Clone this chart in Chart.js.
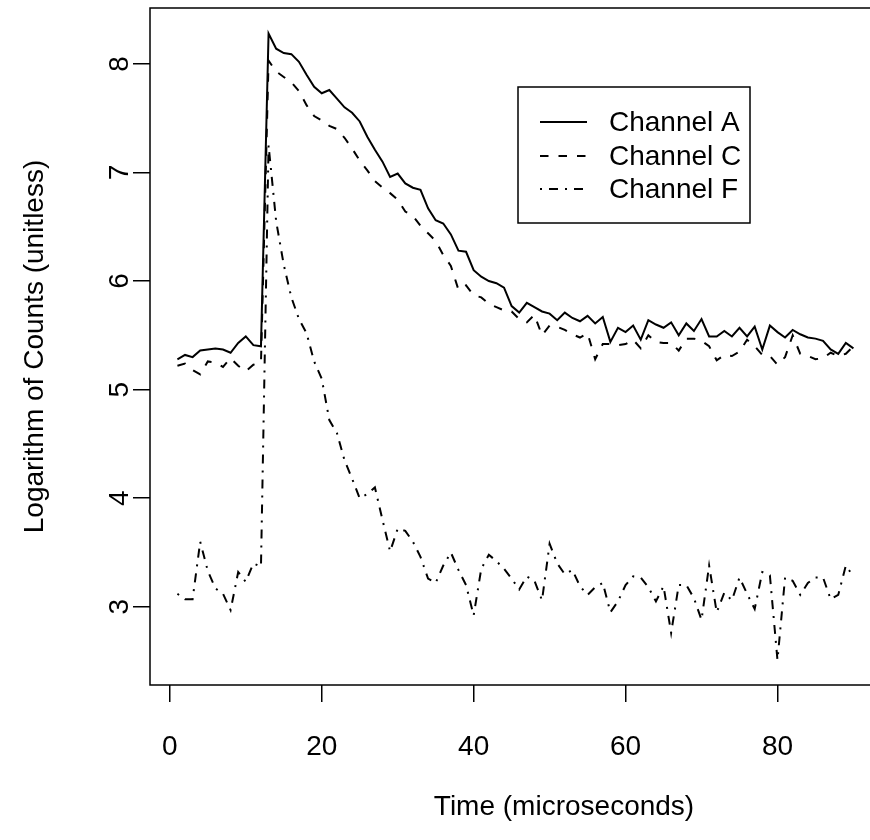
<!DOCTYPE html>
<html>
<head>
<meta charset="utf-8">
<script src="https://cdn.jsdelivr.net/npm/chart.js@4.4.1/dist/chart.umd.min.js"></script>
<style>
  html, body { margin: 0; padding: 0; background: #fff; overflow: hidden; }
  #wrap { width: 870px; height: 840px; overflow: hidden; }
</style>
</head>
<body>
<div id="wrap"><canvas id="myChart" width="982" height="840"></canvas></div>
<script>
// time axis (microseconds)
const timeUs = [1, 2, 3, 4, 5, 6, 7, 8, 9, 10, 11, 12, 13, 14, 15, 16, 17, 18, 19, 20,
    21, 22, 23, 24, 25, 26, 27, 28, 29, 30, 31, 32, 33, 34, 35, 36, 37, 38, 39, 40,
    41, 42, 43, 44, 45, 46, 47, 48, 49, 50, 51, 52, 53, 54, 55, 56, 57, 58, 59, 60,
    61, 62, 63, 64, 65, 66, 67, 68, 69, 70, 71, 72, 73, 74, 75, 76, 77, 78, 79, 80,
    81, 82, 83, 84, 85, 86, 87, 88, 89, 90];

// log counts
const channelA = [5.28, 5.32, 5.30, 5.36, 5.37, 5.38, 5.37, 5.34, 5.43, 5.49,
    5.41, 5.40, 8.28, 8.14, 8.10, 8.09, 8.02, 7.90, 7.79, 7.73,
    7.76, 7.68, 7.60, 7.55, 7.47, 7.33, 7.21, 7.10, 6.96, 6.99,
    6.90, 6.86, 6.84, 6.67, 6.56, 6.53, 6.43, 6.28, 6.27, 6.10,
    6.04, 6.00, 5.98, 5.94, 5.77, 5.71, 5.80, 5.76, 5.72, 5.70,
    5.64, 5.71, 5.66, 5.63, 5.68, 5.61, 5.67, 5.44, 5.57, 5.53,
    5.59, 5.46, 5.64, 5.60, 5.57, 5.62, 5.50, 5.61, 5.54, 5.65,
    5.49, 5.49, 5.54, 5.49, 5.57, 5.49, 5.58, 5.37, 5.59, 5.53,
    5.48, 5.55, 5.51, 5.48, 5.47, 5.45, 5.37, 5.33, 5.43, 5.38];

const channelC = [5.22, 5.24, 5.18, 5.14, 5.26, 5.25, 5.21, 5.29, 5.22, 5.17,
    5.23, 5.25, 8.03, 7.93, 7.88, 7.83, 7.75, 7.62, 7.52, 7.48,
    7.43, 7.40, 7.32, 7.22, 7.11, 7.02, 6.92, 6.86, 6.81, 6.75,
    6.64, 6.60, 6.51, 6.44, 6.37, 6.24, 6.14, 5.92, 5.96, 5.87,
    5.85, 5.79, 5.76, 5.73, 5.72, 5.65, 5.62, 5.69, 5.50, 5.59,
    5.58, 5.55, 5.51, 5.48, 5.52, 5.28, 5.42, 5.42, 5.41, 5.42,
    5.46, 5.38, 5.50, 5.44, 5.43, 5.43, 5.36, 5.47, 5.47, 5.45,
    5.40, 5.27, 5.32, 5.31, 5.35, 5.46, 5.40, 5.32, 5.31, 5.23,
    5.30, 5.50, 5.33, 5.31, 5.28, 5.29, 5.34, 5.31, 5.33, 5.40];

const channelF = [3.12, 3.07, 3.07, 3.60, 3.33, 3.17, 3.12, 2.97, 3.32, 3.23,
    3.40, 3.37, 7.25, 6.55, 6.15, 5.85, 5.65, 5.52, 5.26, 5.10,
    4.72, 4.60, 4.35, 4.18, 4.00, 4.04, 4.10, 3.80, 3.51, 3.72,
    3.70, 3.60, 3.46, 3.26, 3.22, 3.38, 3.50, 3.34, 3.20, 2.92,
    3.35, 3.48, 3.42, 3.35, 3.26, 3.16, 3.28, 3.24, 3.06, 3.58,
    3.40, 3.30, 3.34, 3.19, 3.11, 3.18, 3.22, 2.95, 3.05, 3.20,
    3.28, 3.27, 3.18, 3.05, 3.19, 2.76, 3.20, 3.20, 3.08, 2.88,
    3.38, 2.95, 3.13, 3.06, 3.27, 3.12, 2.98, 3.32, 3.29, 2.51,
    3.27, 3.24, 3.11, 3.22, 3.27, 3.27, 3.07, 3.11, 3.38, 3.28];

const seriesLabels = ['Channel A', 'Channel C', 'Channel F'];
const xTickValues = [0, 20, 40, 60, 80];
const yTickValues = [3, 4, 5, 6, 7, 8];

const FONT = "'Liberation Sans', Arial, Helvetica, sans-serif";
Chart.defaults.font.family = FONT;
Chart.defaults.font.size = 28;
Chart.defaults.color = '#000';

function toPoints(values) {
    return timeUs.map((t, i) => ({ x: t, y: values[i] }));
}

function makeDataset(label, values, dash) {
    return {
        label: label,
        data: toPoints(values),
        borderColor: '#000',
        borderWidth: 2,
        borderDash: dash,
        pointRadius: 0,
        tension: 0,
        fill: false
    };
}

// box round the plot region (its right side falls outside the picture, as in the original)
const framePlugin = {
    id: 'frame',
    afterDatasetsDraw(chart) {
        const { ctx, chartArea } = chart;
        ctx.save();
        ctx.strokeStyle = '#000';
        ctx.lineWidth = 1.5;
        ctx.strokeRect(chartArea.left, chartArea.top, chartArea.right - chartArea.left, chartArea.bottom - chartArea.top);
        ctx.restore();
    }
};

// legend box in the upper right, R style
const boxLegendPlugin = {
    id: 'boxLegend',
    afterDraw(chart) {
        const ctx = chart.ctx;
        const box = { left: 518, top: 87, right: 750, bottom: 223 };
        const rowY = [122, 156, 189];
        ctx.save();
        ctx.fillStyle = '#fff';
        ctx.fillRect(box.left, box.top, box.right - box.left, box.bottom - box.top);
        ctx.strokeStyle = '#000';
        ctx.lineWidth = 1.5;
        ctx.strokeRect(box.left, box.top, box.right - box.left, box.bottom - box.top);
        chart.data.datasets.forEach((ds, i) => {
            ctx.beginPath();
            ctx.setLineDash(ds.borderDash);
            ctx.lineWidth = ds.borderWidth;
            ctx.moveTo(540, rowY[i]);
            ctx.lineTo(587, rowY[i]);
            ctx.stroke();
            ctx.setLineDash([]);
            ctx.fillStyle = '#000';
            ctx.font = '28px ' + FONT;
            ctx.textBaseline = 'middle';
            ctx.textAlign = 'left';
            ctx.fillText(ds.label, 609, rowY[i] + 1);
        });
        ctx.restore();
    }
};

const ctx = document.getElementById('myChart').getContext('2d');
const myChart = new Chart(ctx, {
    type: 'line',
    data: {
        datasets: [
            makeDataset(seriesLabels[0], channelA, []),
            makeDataset(seriesLabels[1], channelC, [8.5, 10]),
            makeDataset(seriesLabels[2], channelF, [2, 7, 9, 7])
        ]
    },
    options: {
        responsive: false,
        animation: false,
        layout: { padding: { top: 8, right: 4, left: 0, bottom: 0 } },
        plugins: {
            legend: { display: false },
            tooltip: { enabled: false }
        },
        scales: {
            x: {
                type: 'linear',
                min: -2.61,
                max: 106.4,
                afterBuildTicks: scale => { scale.ticks = xTickValues.map(v => ({ value: v })); },
                afterFit: scale => {
                    scale.height = 155;
                    scale.paddingLeft = 0;
                    scale.paddingRight = 0;
                },
                border: { display: false },
                grid: { drawOnChartArea: false, drawTicks: true, tickLength: 17, color: '#000', lineWidth: 1.5 },
                ticks: { autoSkip: false, maxRotation: 0, padding: 28, color: '#000' },
                title: { display: true, text: 'Time (microseconds)', color: '#000', padding: { top: 0, bottom: 16 } }
            },
            y: {
                type: 'linear',
                min: 2.28,
                max: 8.515,
                afterBuildTicks: scale => { scale.ticks = yTickValues.map(v => ({ value: v })); },
                afterFit: scale => {
                    scale.width = 150;
                    scale.paddingTop = 0;
                    scale.paddingBottom = 0;
                },
                border: { display: false },
                grid: { drawOnChartArea: false, drawTicks: true, tickLength: 17, color: '#000', lineWidth: 1.5 },
                ticks: { minRotation: 90, maxRotation: 90, crossAlign: 'center', padding: 5, color: '#000' },
                title: { display: true, text: 'Logarithm of Counts (unitless)', color: '#000', padding: { top: 18, bottom: 0 } }
            }
        }
    },
    plugins: [framePlugin, boxLegendPlugin]
});
</script>
</body>
</html>
